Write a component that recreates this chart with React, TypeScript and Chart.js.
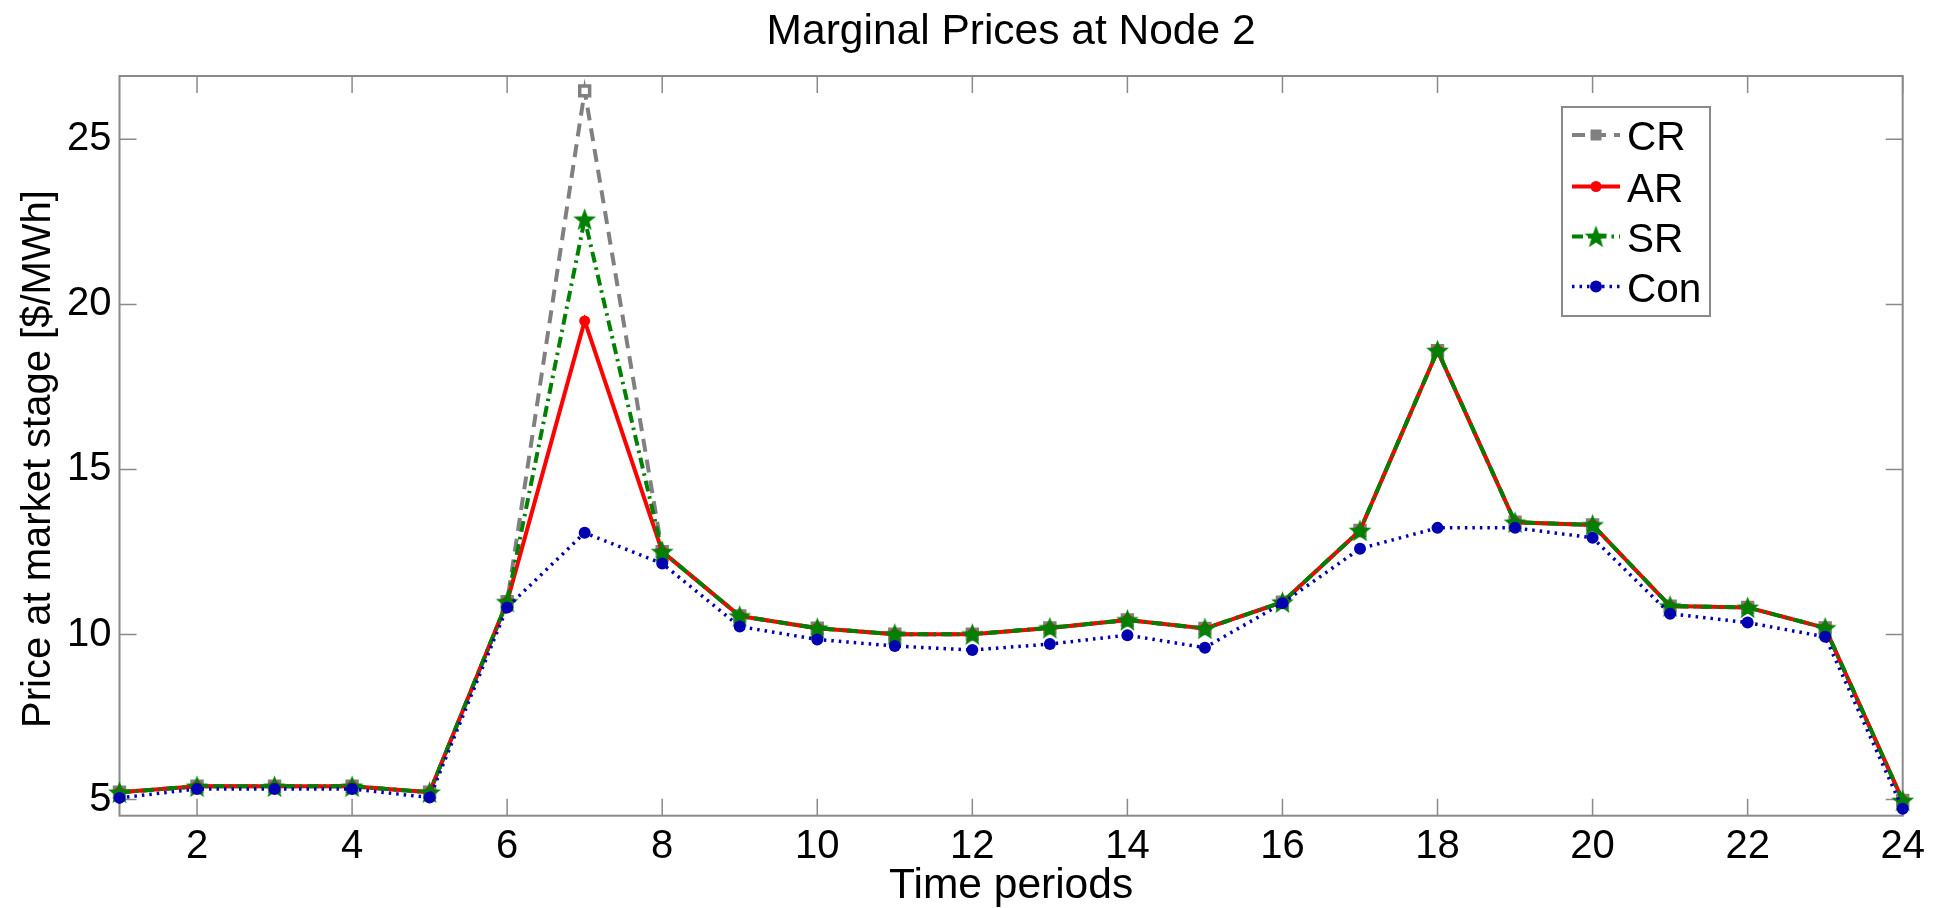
import React, { useEffect, useRef } from "react";
import { Chart, registerables } from "chart.js";

Chart.register(...registerables);

// ---- data ----
const periods = [1, 2, 3, 4, 5, 6, 7, 8, 9, 10, 11, 12, 13, 14, 15, 16, 17, 18, 19, 20, 21, 22, 23, 24];
const crPrices = [5.22, 5.4, 5.4, 5.4, 5.22, 10.99, 26.47, 12.51, 10.56, 10.19, 10.01, 10.01, 10.2, 10.44, 10.18, 10.98, 13.15, 18.6, 13.4, 13.32, 10.86, 10.82, 10.2, 4.97];
const arPrices = [5.22, 5.4, 5.4, 5.4, 5.22, 10.99, 19.5, 12.51, 10.56, 10.19, 10.01, 10.01, 10.2, 10.44, 10.18, 10.98, 13.15, 18.6, 13.4, 13.32, 10.86, 10.82, 10.2, 4.97];
const srPrices = [5.22, 5.4, 5.4, 5.4, 5.22, 10.99, 22.58, 12.51, 10.56, 10.19, 10.01, 10.01, 10.2, 10.44, 10.18, 10.98, 13.15, 18.6, 13.4, 13.32, 10.86, 10.82, 10.2, 4.97];
const conPrices = [5.05, 5.32, 5.32, 5.32, 5.06, 10.82, 13.08, 12.15, 10.24, 9.85, 9.65, 9.53, 9.71, 9.98, 9.6, 10.95, 12.6, 13.23, 13.23, 12.93, 10.63, 10.36, 9.93, 4.72];
const seriesNames = ["CR", "AR", "SR", "Con"];
const xTickValues = [2, 4, 6, 8, 10, 12, 14, 16, 18, 20, 22, 24];
const yTickValues = [5, 10, 15, 20, 25];
const chartTitle = "Marginal Prices at Node 2";
const xTitle = "Time periods";
const yTitle = "Price at market stage [$/MWh]";

const FONT = "'Liberation Sans', Arial, Helvetica, sans-serif";
const AXIS_COLOR = "#8a8a8a";
const GRAY = "#808080";
const RED = "#ff0000";
const GREEN = "#008000";
const BLUE = "#0000b0";

function makeStar(size: number, color: string): HTMLCanvasElement {
  const c = document.createElement("canvas");
  c.width = size;
  c.height = size;
  const ctx = c.getContext("2d")!;
  const cx = size / 2;
  const cy = size / 2 + 1;
  const R = size / 2 - 0.5;
  const r = R * 0.42;
  ctx.beginPath();
  for (let i = 0; i < 10; i++) {
    const ang = -Math.PI / 2 + (i * Math.PI) / 5;
    const rad = i % 2 === 0 ? R : r;
    ctx.lineTo(cx + rad * Math.cos(ang), cy + rad * Math.sin(ang));
  }
  ctx.closePath();
  ctx.fillStyle = color;
  ctx.fill();
  return c;
}

const framePlugin = {
  id: "matlabFrame",
  beforeDatasetsDraw(chart: any) {
    const { ctx, chartArea } = chart;
    const { left, right, top, bottom } = chartArea;
    const xs = chart.scales.x;
    const ys = chart.scales.y;
    const tl = 17;
    ctx.save();
    ctx.strokeStyle = AXIS_COLOR;
    ctx.lineWidth = 1.5;
    ctx.beginPath();
    xTickValues.forEach((v) => {
      const px = xs.getPixelForValue(v);
      ctx.moveTo(px, bottom);
      ctx.lineTo(px, bottom - tl);
      ctx.moveTo(px, top);
      ctx.lineTo(px, top + tl);
    });
    yTickValues.forEach((v) => {
      const py = ys.getPixelForValue(v);
      ctx.moveTo(left, py);
      ctx.lineTo(left + tl, py);
      ctx.moveTo(right, py);
      ctx.lineTo(right - tl, py);
    });
    ctx.stroke();
    ctx.lineWidth = 2;
    ctx.strokeRect(left, top, right - left, bottom - top);
    // chart title
    ctx.fillStyle = "#000";
    ctx.font = `42.5px ${FONT}`;
    ctx.textAlign = "center";
    ctx.textBaseline = "alphabetic";
    ctx.fillText(chartTitle, (left + right) / 2, 44);
    // y-axis title
    ctx.save();
    ctx.translate(50, 459);
    ctx.rotate(-Math.PI / 2);
    ctx.font = `40px ${FONT}`;
    ctx.textAlign = "center";
    ctx.textBaseline = "alphabetic";
    ctx.fillText(yTitle, 0, 0);
    ctx.restore();
    ctx.restore();
  },
};

const legendPlugin = {
  id: "insideLegend",
  afterDraw(chart: any) {
    const { ctx } = chart;
    const boxL = 1562;
    const boxR = 1710;
    const boxT = 107;
    const boxB = 316;
    ctx.save();
    ctx.fillStyle = "#fff";
    ctx.fillRect(boxL, boxT, boxR - boxL, boxB - boxT);
    ctx.strokeStyle = AXIS_COLOR;
    ctx.lineWidth = 2;
    ctx.strokeRect(boxL, boxT, boxR - boxL, boxB - boxT);
    const rowY = [135, 186.5, 236.5, 286.5];
    const ds = chart.data.datasets;
    ds.forEach((d: any, i: number) => {
      const y = rowY[i];
      ctx.save();
      ctx.strokeStyle = d.borderColor;
      ctx.lineWidth = d.borderWidth;
      ctx.setLineDash(d.borderDash || []);
      ctx.beginPath();
      ctx.moveTo(1572, y);
      ctx.lineTo(1620, y);
      ctx.stroke();
      ctx.restore();
      const mx = 1596;
      if (d.pointStyle === "rect") {
        ctx.fillStyle = d.borderColor;
        ctx.fillRect(mx - 5.5, y - 5.5, 11, 11);
      } else if (d.pointStyle === "circle") {
        ctx.fillStyle = d.pointBackgroundColor;
        ctx.beginPath();
        ctx.arc(mx, y, d.pointRadius, 0, Math.PI * 2);
        ctx.fill();
      } else if (d.pointStyle && d.pointStyle.width) {
        const img = d.pointStyle;
        ctx.drawImage(img, mx - img.width / 2, y - img.height / 2);
      }
      ctx.fillStyle = "#000";
      ctx.font = `40.5px ${FONT}`;
      ctx.textAlign = "left";
      ctx.textBaseline = "alphabetic";
      ctx.fillText(d.label, 1627, y + 15);
    });
    ctx.restore();
  },
};

export default function App() {
  const canvasRef = useRef<HTMLCanvasElement | null>(null);

  useEffect(() => {
    const canvas = canvasRef.current;
    if (!canvas) return;
    const star = makeStar(25, GREEN);
    const toPts = (arr: number[]) => periods.map((p, i) => ({ x: p, y: arr[i] }));

    const chart = new Chart(canvas, {
      type: "line",
      data: {
        datasets: [
          {
            label: seriesNames[0],
            data: toPts(crPrices),
            borderColor: GRAY,
            borderWidth: 4,
            borderDash: [13, 8],
            pointStyle: "rect",
            pointRadius: 7,
            pointBorderWidth: 3.5,
            pointBorderColor: GRAY,
            pointBackgroundColor: "#ffffff",
            order: 4,
            clip: false,
          },
          {
            label: seriesNames[1],
            data: toPts(arPrices),
            borderColor: RED,
            borderWidth: 4,
            pointStyle: "circle",
            pointRadius: 5.5,
            pointBorderWidth: 0,
            pointBackgroundColor: RED,
            order: 3,
            clip: false,
          },
          {
            label: seriesNames[2],
            data: toPts(srPrices),
            borderColor: GREEN,
            borderWidth: 4,
            borderDash: [11, 5, 2.5, 5],
            pointStyle: star as any,
            pointRadius: 11,
            pointBackgroundColor: GREEN,
            order: 2,
            clip: false,
          },
          {
            label: seriesNames[3],
            data: toPts(conPrices),
            borderColor: BLUE,
            borderWidth: 3.5,
            borderDash: [2.5, 5],
            pointStyle: "circle",
            pointRadius: 6,
            pointBorderWidth: 0,
            pointBackgroundColor: BLUE,
            order: 1,
            clip: false,
          },
        ] as any,
      },
      options: {
        responsive: false,
        animation: false,
        devicePixelRatio: 1,
        layout: { padding: { left: 0, right: 30.3, top: 76, bottom: 0 } },
        plugins: {
          legend: { display: false },
          title: { display: false },
          tooltip: { enabled: false },
        },
        elements: { line: { tension: 0, borderCapStyle: "butt" } },
        scales: {
          x: {
            type: "linear",
            min: 1,
            max: 24,
            grid: { display: false, drawTicks: false },
            border: { display: false },
            afterBuildTicks: (s: any) => {
              s.ticks = xTickValues.map((v) => ({ value: v }));
            },
            afterFit: (s: any) => {
              s.height = 92.3;
            },
            ticks: {
              autoSkip: false,
              maxRotation: 0,
              padding: 7,
              color: "#000",
              font: { family: FONT, size: 40 },
              callback: (v: any) => String(v),
            },
            title: {
              display: true,
              text: xTitle,
              color: "#000",
              font: { family: FONT, size: 42.5, lineHeight: 1 },
              padding: { top: 0, bottom: 0 },
            },
          },
          y: {
            type: "linear",
            min: 4.51,
            max: 26.92,
            grid: { display: false, drawTicks: false },
            border: { display: false },
            afterBuildTicks: (s: any) => {
              s.ticks = yTickValues.map((v) => ({ value: v }));
            },
            afterFit: (s: any) => {
              s.width = 119.5;
            },
            ticks: {
              padding: 8,
              color: "#000",
              font: { family: FONT, size: 40 },
              callback: (v: any) => String(v),
            },
            title: { display: false },
          },
        },
      } as any,
      plugins: [framePlugin, legendPlugin],
    });
    return () => chart.destroy();
  }, []);

  return (
    <div style={{ position: "fixed", left: 0, top: 0, width: 1933, height: 908, background: "#fff" }}>
      <canvas ref={canvasRef} width={1933} height={908} style={{ display: "block", width: 1933, height: 908 }} />
    </div>
  );
}
